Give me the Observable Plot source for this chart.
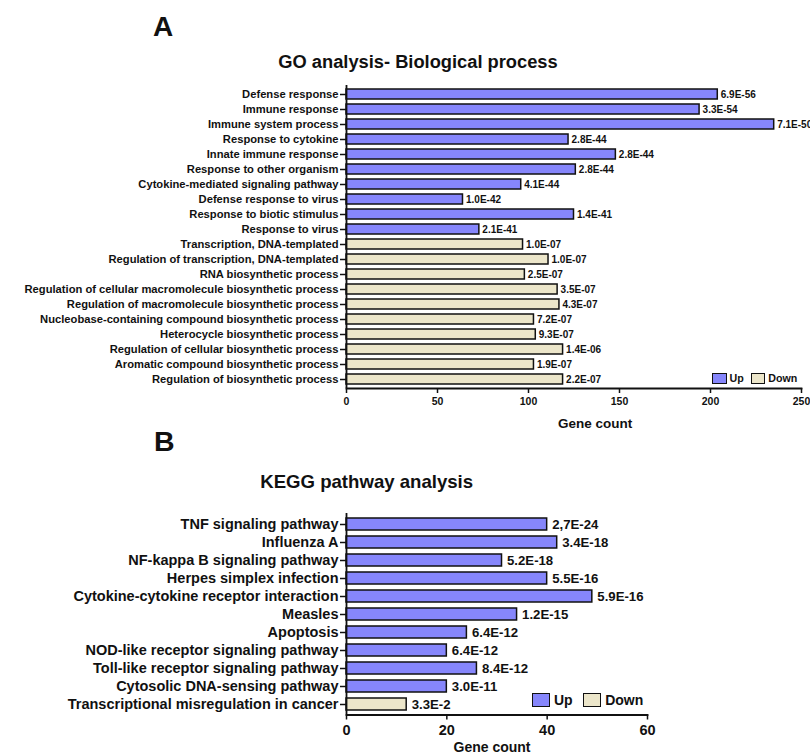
<!DOCTYPE html>
<html>
<head>
<meta charset="utf-8">
<script src="https://cdn.jsdelivr.net/npm/d3@7"></script>
<script src="https://cdn.jsdelivr.net/npm/@observablehq/plot@0.6"></script>
<style>
  html, body { margin: 0; padding: 0; background: #fff; }
  #wrap { position: relative; width: 810px; height: 756px; overflow: hidden; font-family: "Liberation Sans", Arial, sans-serif; font-weight: bold; color: #111; }
  .abs { position: absolute; line-height: 1; white-space: nowrap; }
  .leg { position: absolute; display: flex; align-items: center; line-height: 1; }
  .sw { box-sizing: border-box; border: 1.5px solid #111; }
</style>
</head>
<body>
<div id="wrap"></div>
<script>
// ---------- Data: GO analysis (Biological process) ----------
const goTerms = [
  "Defense response",
  "Immune response",
  "Immune system process",
  "Response to cytokine",
  "Innate immune response",
  "Response to other organism",
  "Cytokine-mediated signaling pathway",
  "Defense response to virus",
  "Response to biotic stimulus",
  "Response to virus",
  "Transcription, DNA-templated",
  "Regulation of transcription, DNA-templated",
  "RNA biosynthetic process",
  "Regulation of cellular macromolecule biosynthetic process",
  "Regulation of macromolecule biosynthetic process",
  "Nucleobase-containing compound biosynthetic process",
  "Heterocycle biosynthetic process",
  "Regulation of cellular biosynthetic process",
  "Aromatic compound biosynthetic process",
  "Regulation of biosynthetic process"
];
const goCounts = [204, 194, 235, 122, 148, 126, 96, 64, 125, 73, 97, 111, 98, 116, 117, 103, 104, 119, 103, 119];
const goPvalues = ["6.9E-56", "3.3E-54", "7.1E-50", "2.8E-44", "2.8E-44", "2.8E-44", "4.1E-44", "1.0E-42", "1.4E-41", "2.1E-41",
                   "1.0E-07", "1.0E-07", "2.5E-07", "3.5E-07", "4.3E-07", "7.2E-07", "9.3E-07", "1.4E-06", "1.9E-07", "2.2E-07"];
const goDirection = ["Up","Up","Up","Up","Up","Up","Up","Up","Up","Up",
                     "Down","Down","Down","Down","Down","Down","Down","Down","Down","Down"];
const goTicks = [0, 50, 100, 150, 200, 250];

// ---------- Data: KEGG pathway analysis ----------
const keggTerms = [
  "TNF signaling pathway",
  "Influenza A",
  "NF-kappa B signaling pathway",
  "Herpes simplex infection",
  "Cytokine-cytokine receptor interaction",
  "Measles",
  "Apoptosis",
  "NOD-like receptor signaling pathway",
  "Toll-like receptor signaling pathway",
  "Cytosolic DNA-sensing pathway",
  "Transcriptional misregulation in cancer"
];
const keggCounts = [40, 42, 31, 40, 49, 34, 24, 20, 26, 20, 12];
const keggPvalues = ["2,7E-24", "3.4E-18", "5.2E-18", "5.5E-16", "5.9E-16", "1.2E-15", "6.4E-12", "6.4E-12", "8.4E-12", "3.0E-11", "3.3E-2"];
const keggDirection = ["Up","Up","Up","Up","Up","Up","Up","Up","Up","Up","Down"];
const keggTicks = [0, 20, 40, 60];

const directions = ["Up", "Down"];
const dirColors = ["#8686fb", "#ece6ca"];

// ---------- build tables ----------
const goData = goTerms.map((t, i) => ({term: t, count: goCounts[i], p: goPvalues[i], dir: goDirection[i]}));
const keggData = keggTerms.map((t, i) => ({term: t, count: keggCounts[i], p: keggPvalues[i], dir: keggDirection[i]}));

const FONT = "Liberation Sans, Arial, sans-serif";
const wrap = document.getElementById("wrap");

function panel(data, terms, ticks, o) {
  return Plot.plot({
    width: 810,
    height: o.height,
    marginLeft: o.marginLeft,
    marginRight: o.marginRight,
    marginTop: o.marginTop,
    marginBottom: o.marginBottom,
    style: {fontFamily: FONT, fontWeight: "bold", color: "#111", background: "transparent", overflow: "visible"},
    x: {domain: [ticks[0], ticks[ticks.length - 1]], label: null},
    y: {domain: terms, paddingInner: o.padding, paddingOuter: o.padding / 2, label: null},
    color: {domain: directions, range: dirColors},
    marks: [
      Plot.barX(data, {x: "count", y: "term", fill: "dir", stroke: "#111", strokeWidth: 1.5}),
      Plot.text(data, {x: "count", y: "term", text: "p", textAnchor: "start", dx: o.valueDx, fontSize: o.valueSize, fill: "#111"}),
      Plot.ruleX([ticks[0]], {stroke: "#111", strokeWidth: 1.8}),
      Plot.frame({anchor: "bottom", stroke: "#111", strokeWidth: 1.8}),
      Plot.axisY({tickSize: 6, tickPadding: 2, fontSize: o.yFont, label: null, stroke: "#111", strokeWidth: 1.5, fill: "#111"}),
      Plot.axisX({ticks: ticks, tickSize: 5, tickPadding: o.xPad, fontSize: o.xFont, label: null, stroke: "#111", strokeWidth: 1.5, fill: "#111"}),
      Plot.text(["Gene count"], {frameAnchor: "bottom", dx: o.labelDx, dy: o.labelDy, fontSize: o.labelSize, fill: "#111"})
    ]
  });
}

const topPlot = panel(goData, goTerms, goTicks, {
  height: 440, marginLeft: 346, marginRight: 9, marginTop: 85, marginBottom: 52, padding: 0.34,
  valueDx: 3, valueSize: 10, yFont: 11.2, xFont: 10.5, xPad: 4, labelDx: 21, labelDy: 39, labelSize: 13.5
});
topPlot.style.position = "absolute"; topPlot.style.left = "0px"; topPlot.style.top = "0px";
wrap.appendChild(topPlot);

const bottomPlot = panel(keggData, keggTerms, keggTicks, {
  height: 316, marginLeft: 346, marginRight: 163, marginTop: 73, marginBottom: 41.5, padding: 0.34,
  valueDx: 5, valueSize: 13.2, yFont: 14.5, xFont: 14.5, xPad: 5, labelDx: -5, labelDy: 37, labelSize: 14
});
bottomPlot.style.position = "absolute"; bottomPlot.style.left = "0px"; bottomPlot.style.top = "440px";
wrap.appendChild(bottomPlot);

// ---------- titles ----------
function addText(txt, x, baseline, size, center) {
  const d = document.createElement("div");
  d.className = "abs";
  d.textContent = txt;
  d.style.fontSize = size + "px";
  d.style.top = (baseline - 0.8465 * size) + "px";
  d.style.left = x + "px";
  if (center) d.style.transform = "translateX(-50%)";
  wrap.appendChild(d);
}
addText("A", 153, 36.7, 28, false);
addText("GO analysis- Biological process", 418, 68.3, 18.3, true);
addText("B", 154, 450.7, 28.5, false);
addText("KEGG pathway analysis", 366.7, 488.3, 18.6, true);

// ---------- legends ----------
function addLegend(left, topPx, boxW, boxH, fontSize, gapIn, gapOut) {
  const l = document.createElement("div");
  l.className = "leg";
  l.style.left = left + "px";
  l.style.top = topPx + "px";
  directions.forEach((name, i) => {
    const sw = document.createElement("div");
    sw.className = "sw";
    sw.style.width = boxW + "px";
    sw.style.height = boxH + "px";
    sw.style.background = dirColors[i];
    sw.style.marginLeft = (i === 0 ? 0 : gapOut) + "px";
    const t = document.createElement("span");
    t.textContent = name;
    t.style.fontSize = fontSize + "px";
    t.style.marginLeft = gapIn + "px";
    l.appendChild(sw);
    l.appendChild(t);
  });
  wrap.appendChild(l);
}
addLegend(712, 372.5, 14.5, 11.5, 10.7, 3, 7);
addLegend(531.5, 692.5, 18.5, 14.5, 14, 4, 10);
</script>
</body>
</html>
